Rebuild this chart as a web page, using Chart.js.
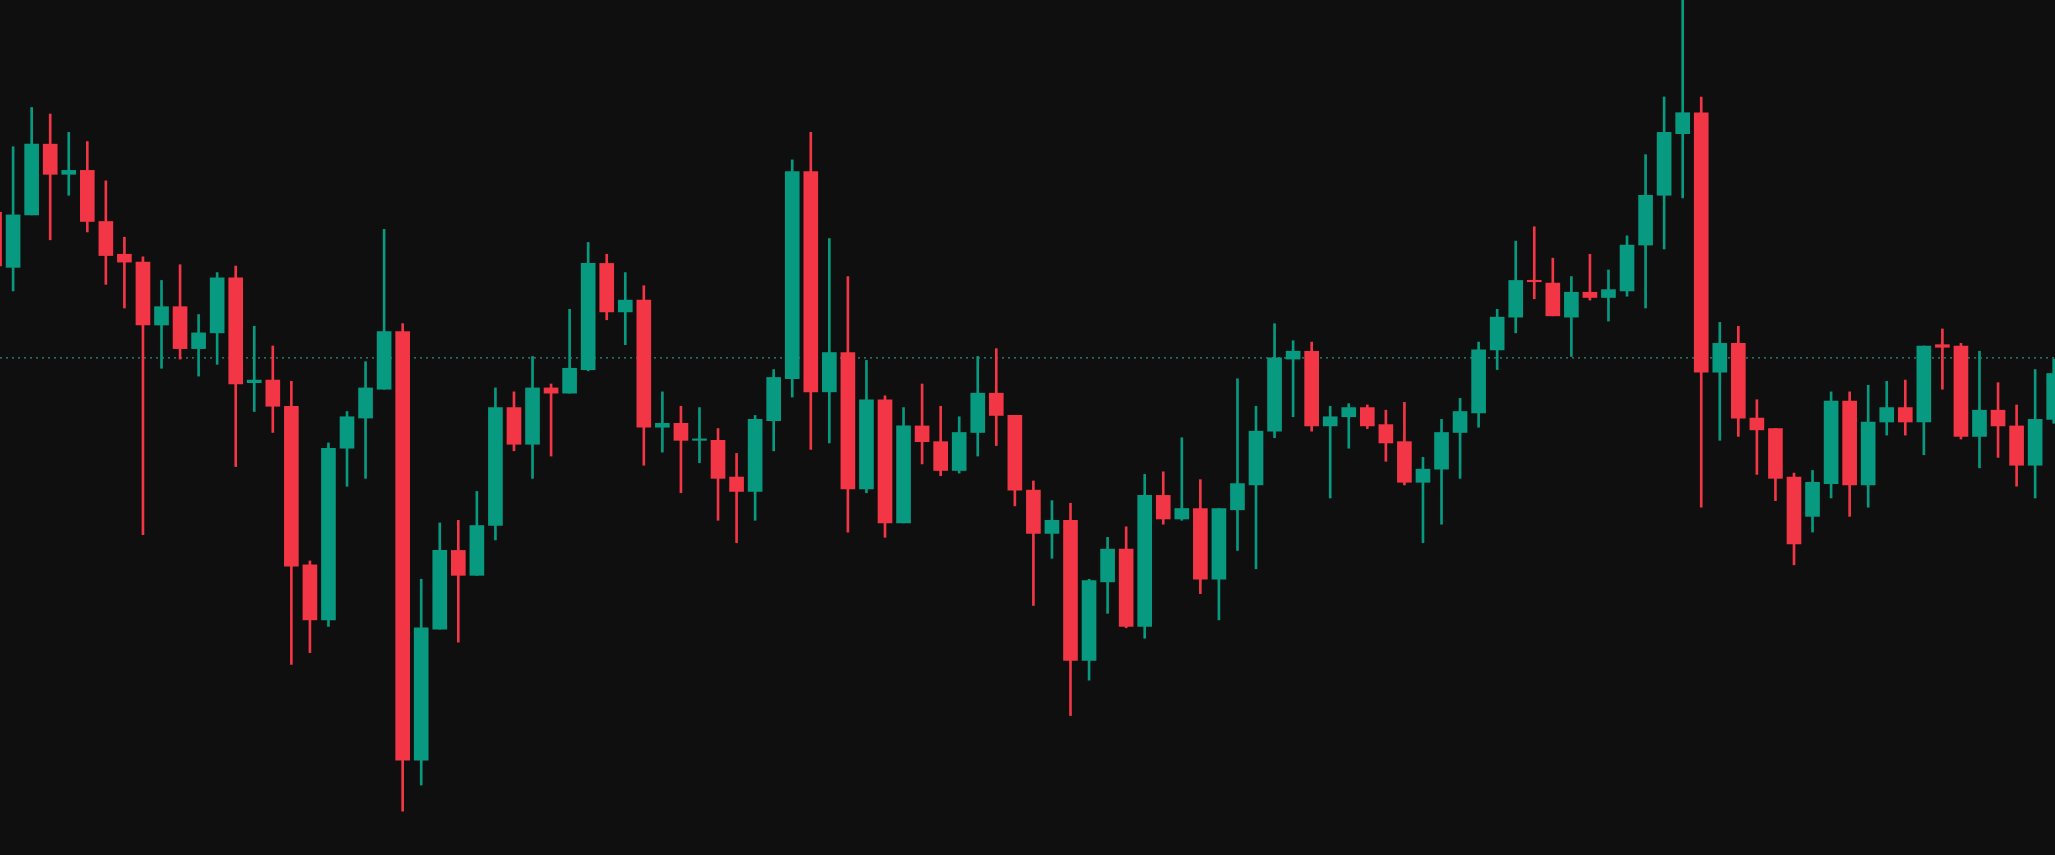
<!DOCTYPE html>
<html><head><meta charset="utf-8">
<script src="https://cdn.jsdelivr.net/npm/chart.js@4"></script>
<style>html,body{margin:0;padding:0;background:#0f0f0f;overflow:hidden}#wrap{width:2055px;height:855px}</style>
</head><body><div id="wrap"><canvas id="c"></canvas></div>
<script>
const idx = Array.from({length:112},(_, k)=>k-1);
const opens  = [490,448,488,542,519,522,483,458,452,404,418,386,398,440,360,362,342,221,179,310,333,355,399,72,172,232,213,251,341,313,356,352,370,451,414,423,326,329,316,316,288,277,331,363,521,353,383,279,347,253,327,315,293,322,352,335,278,245,255,148,208,233,174,274,256,264,210,263,282,323,378,384,327,334,341,328,315,284,294,322,337,385,410,438,436,410,429,425,430,465,503,550,566,368,390,333,325,288,258,283,346,282,330,341,330,389,388,319,339,327,297,332];
const highs  = [500,540,570,565,551,544,514,471,456,438,450,412,444,449,403,388,361,224,314,338,376,477,405,210,253,255,277,356,353,380,359,416,467,458,444,434,353,342,341,325,306,335,370,530,551,470,441,377,350,341,359,342,334,380,386,335,285,270,268,210,242,250,290,292,318,286,264,363,342,405,392,391,342,344,343,339,345,303,332,348,391,416,468,479,455,441,458,446,472,534,578,657,578,406,403,347,325,291,293,353,353,358,361,362,388,401,390,384,360,343,370,378];
const lows   = [440,430,488,469,503,475,435,417,244,371,378,365,374,296,338,322,145,154,174,281,287,355,33,53,172,162,213,240,308,287,304,352,369,408,389,297,307,276,299,255,238,255,308,349,309,314,246,276,242,253,298,289,291,304,312,266,190,226,106,133,184,173,165,252,255,199,179,232,218,318,334,323,272,310,325,300,282,238,252,287,326,370,398,424,411,380,423,407,426,417,462,501,265,316,319,290,270,221,246,272,258,265,320,320,305,355,317,295,303,281,272,329];
const closes = [449,488,542,519,522,483,457,452,404,418,386,398,440,359,362,342,220,179,310,334,356,399,72,173,232,213,251,341,313,356,352,371,451,414,423,326,329,316,317,287,277,332,364,521,353,383,279,347,253,327,315,293,322,352,335,278,245,255,148,209,233,174,274,256,264,210,264,283,323,379,384,327,334,341,327,314,284,294,322,338,385,410,438,437,411,429,425,431,465,503,551,566,368,390,333,324,287,237,284,346,282,330,341,330,388,387,319,339,327,297,332,367];
const lastPrice = 379;

const UP='#089981', DOWN='#f23645';
const cols = idx.map((_,k)=> closes[k]>=opens[k]?UP:DOWN);
const wickData = idx.map((x,k)=>({x, y:[lows[k], highs[k]]}));
const bodyData = idx.map((x,k)=>({x, y:[opens[k], closes[k]]}));

const bg = {id:'bg', beforeDraw(ch){const c=ch.ctx;c.save();c.fillStyle='#0f0f0f';c.fillRect(0,0,ch.width,ch.height);c.restore();}};

new Chart(document.getElementById('c'), {
  type:'bar',
  data:{datasets:[
    {type:'line', data:[{x:-2,y:lastPrice},{x:112,y:lastPrice}], borderColor:'#2f8f84', borderWidth:1.3, borderDash:[2,4], pointRadius:0, order:3},
    {data:wickData, backgroundColor:cols, barThickness:2, grouped:false, borderWidth:0, order:2},
    {data:bodyData, backgroundColor:cols, barThickness:14, grouped:false, borderWidth:0, borderSkipped:false, minBarLength:1.5, order:1}
  ]},
  options:{
    responsive:true, maintainAspectRatio:false, animation:false,
    layout:{padding:0},
    plugins:{legend:{display:false}, tooltip:{enabled:false}},
    scales:{
      x:{type:'linear', offset:false, bounds:'data', min:-0.706, max:110.07, display:false},
      y:{min:-0.4, max:652, display:false}
    }
  },
  plugins:[bg]
});
</script></body></html>
